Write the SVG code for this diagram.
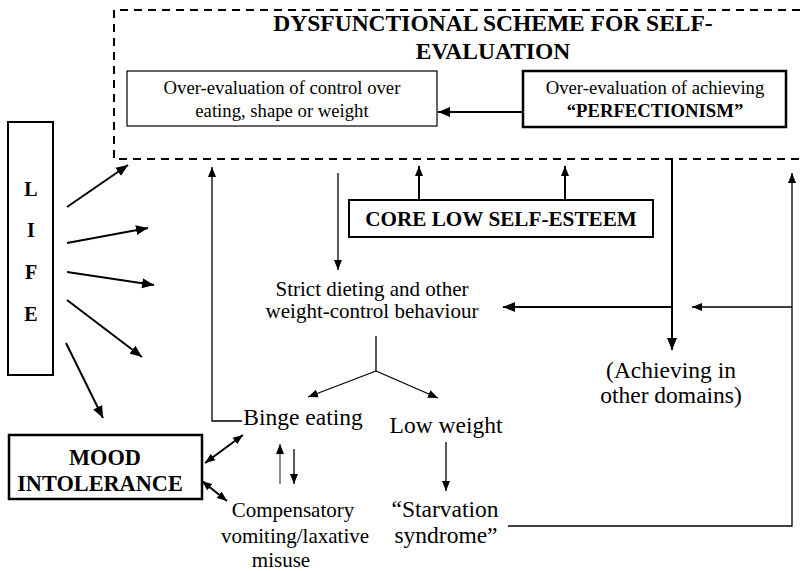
<svg xmlns="http://www.w3.org/2000/svg" width="800" height="571" viewBox="0 0 800 571">
<defs>
<style>
text{font-family:'Liberation Serif','Times New Roman',serif;fill:#000;text-anchor:middle}
.b{font-weight:bold}
.t{font-size:23.5px}
.s{font-size:18.7px}
.m{font-size:21.2px}
.l{font-size:23.5px}
.c{font-size:21px}
.box{fill:#fff;stroke:#000}
.ln{fill:none;stroke:#000}
.thick{stroke-width:2}
.thin{stroke-width:1.3}
</style>
<marker id="ah" markerUnits="userSpaceOnUse" markerWidth="13" markerHeight="11" refX="12" refY="5" orient="auto-start-reverse" viewBox="0 0 13 10">
<path d="M0,0 L12,5 L0,10 z" fill="#000"/>
</marker>
<marker id="as" markerUnits="userSpaceOnUse" markerWidth="11" markerHeight="9" refX="10" refY="4" orient="auto-start-reverse" viewBox="0 0 11 8">
<path d="M0,0 L10,4 L0,8 z" fill="#000"/>
</marker>
<marker id="ag" markerUnits="userSpaceOnUse" markerWidth="11" markerHeight="9" refX="10" refY="4" orient="auto-start-reverse" viewBox="0 0 11 8">
<path d="M0,0 L10,4 L0,8 z" fill="#000"/>
</marker>
</defs>
<rect width="800" height="571" fill="#fff"/>

<g id="scheme">
<path d="M800 10 H114 V159 H800" fill="none" stroke="#000" stroke-width="2" stroke-dasharray="8,6"/>
<text class="b t" x="493" y="31">DYSFUNCTIONAL SCHEME FOR SELF-</text>
<text class="b t" x="493" y="59">EVALUATION</text>
</g>

<g id="overeval-control">
<rect class="box" x="127" y="71" width="310" height="55" stroke-width="1.2"/>
<text class="s" x="282" y="94">Over-evaluation of control over</text>
<text class="s" x="282" y="117">eating, shape or weight</text>
</g>

<g id="overeval-achieving">
<rect class="box" x="523" y="71" width="263" height="56" stroke-width="2.5"/>
<text class="s" x="655" y="94">Over-evaluation of achieving</text>
<text class="s b" x="655" y="117">“PERFECTIONISM”</text>
</g>

<g id="life">
<rect class="box" x="8" y="122" width="45" height="253" stroke-width="2"/>
<text class="b" style="font-size:20px" x="31" y="196">L</text>
<text class="b" style="font-size:20px" x="31" y="237">I</text>
<text class="b" style="font-size:20px" x="31" y="279">F</text>
<text class="b" style="font-size:20px" x="31" y="321">E</text>
</g>

<g id="core">
<rect class="box" x="349" y="200" width="304" height="37" stroke-width="2"/>
<text class="b m" x="501" y="226">CORE LOW SELF-ESTEEM</text>
</g>

<g id="dieting">
<text class="c" x="372" y="296">Strict dieting and other</text>
<text class="c" x="372" y="318">weight-control behaviour</text>
</g>

<g id="achieving-other">
<text class="l" x="671" y="378">(Achieving in</text>
<text class="l" x="671" y="403">other domains)</text>
</g>

<g id="binge">
<text class="l" x="303" y="425">Binge eating</text>
</g>

<g id="low-weight">
<text class="l" x="446" y="433">Low weight</text>
</g>

<g id="mood">
<rect class="box" x="9" y="435" width="193" height="64" stroke-width="2.5"/>
<text class="b" style="font-size:22.3px" x="105" y="465">MOOD</text>
<text class="b" style="font-size:22.3px" x="100" y="491">INTOLERANCE</text>
</g>

<g id="compensatory">
<text class="c" x="293" y="517">Compensatory</text>
<text class="c" x="295" y="543">vomiting/laxative</text>
<text class="c" x="281" y="567">misuse</text>
</g>

<g id="starvation">
<text class="l" x="445" y="517">“Starvation</text>
<text class="l" x="446" y="543">syndrome”</text>
</g>

<g id="connectors">
<line class="ln thick" x1="523" y1="112" x2="438" y2="112" marker-end="url(#ah)"/>
<line class="ln thick" x1="67" y1="207" x2="128" y2="165" marker-end="url(#ah)"/>
<line class="ln thick" x1="67" y1="243" x2="148" y2="228" marker-end="url(#ah)"/>
<line class="ln thick" x1="67" y1="272" x2="154" y2="285" marker-end="url(#ah)"/>
<line class="ln thick" x1="67" y1="300" x2="142" y2="357" marker-end="url(#ah)"/>
<line class="ln thick" x1="66" y1="343" x2="103" y2="418" marker-end="url(#ah)"/>
<path class="ln thin" d="M242 421 H212 V167" marker-end="url(#as)"/>
<line class="ln thin" x1="338" y1="173" x2="338" y2="270" marker-end="url(#as)"/>
<line class="ln thick" x1="419" y1="200" x2="419" y2="166" marker-end="url(#as)"/>
<line class="ln thick" x1="565" y1="200" x2="565" y2="166" marker-end="url(#as)"/>
<line class="ln thick" x1="672" y1="159" x2="672" y2="350" marker-end="url(#ah)"/>
<line class="ln thick" x1="672" y1="307" x2="503" y2="307" marker-end="url(#ah)"/>
<line class="ln thin" x1="792" y1="307" x2="692" y2="307" marker-end="url(#as)"/>
<path class="ln thin" d="M508 526 H792 V173" marker-end="url(#as)"/>
<path class="ln thin" d="M376 336 V371"/>
<line class="ln thin" x1="376" y1="371" x2="308" y2="397" marker-end="url(#as)"/>
<line class="ln thin" x1="376" y1="371" x2="438" y2="398" marker-end="url(#as)"/>
<line class="ln thin" x1="446" y1="442" x2="446" y2="491" marker-end="url(#as)"/>
<line class="ln thick" x1="205" y1="463" x2="243" y2="435" marker-start="url(#as)" marker-end="url(#as)"/>
<line class="ln thick" x1="202" y1="481" x2="227" y2="501" marker-start="url(#as)" marker-end="url(#as)"/>
<line x1="280" y1="484" x2="280" y2="444" stroke="#666" stroke-width="1.5" marker-end="url(#ag)"/>
<line class="ln thin" x1="294" y1="449" x2="294" y2="484" marker-end="url(#as)"/>
</g>
</svg>
